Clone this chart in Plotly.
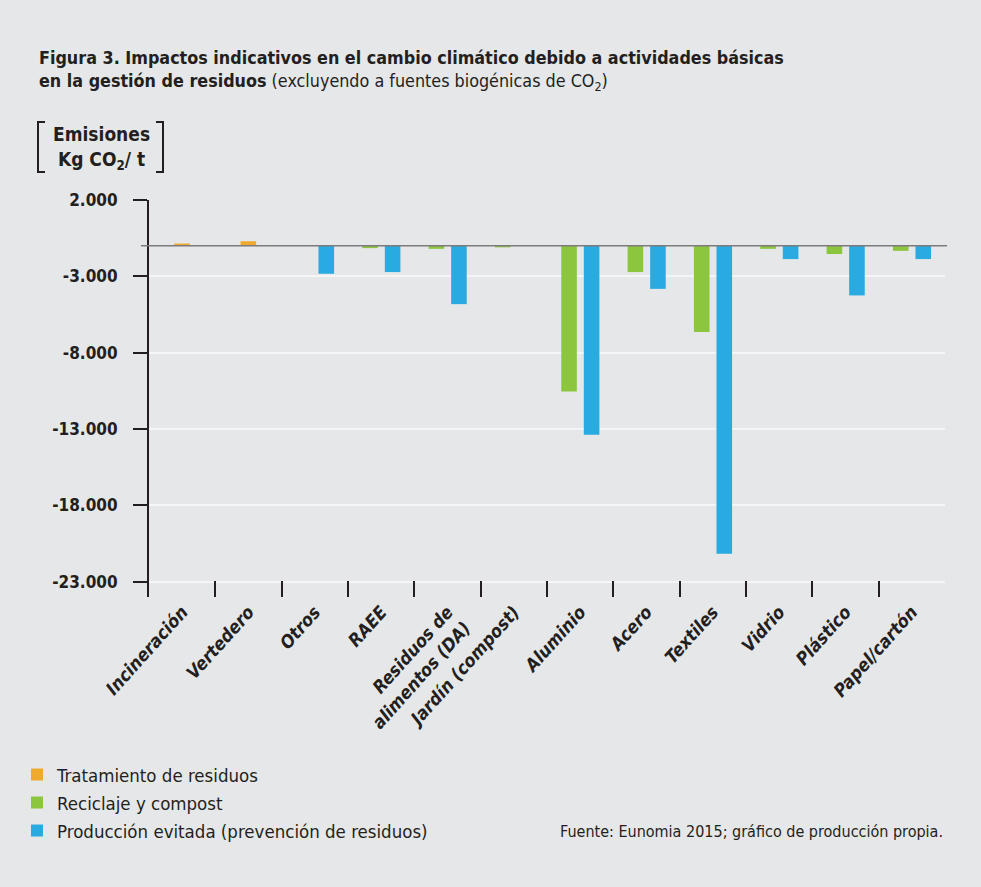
import plotly.graph_objects as go

categories = ["Incineración", "Vertedero", "Otros", "RAEE", "Residuos de<br>alimentos (DA)",
              "Jardín (compost)", "Aluminio", "Acero", "Textiles", "Vidrio", "Plástico", "Papel/cartón"]
series_names = ["Tratamiento de residuos", "Reciclaje y compost", "Producción evitada (prevención de residuos)"]
tratamiento = [150, 300, None, None, None, None, None, None, None, None, None, None]
reciclaje = [None, None, None, -150, -200, -100, -9540, -1720, -5650, -200, -540, -330]
evitada = [None, None, -1830, -1720, -3820, None, -12380, -2820, -20170, -870, -3250, -870]
tick_vals = [2000, -3000, -8000, -13000, -18000, -23000]
tick_text = ["2.000", "-3.000", "-8.000", "-13.000", "-18.000", "-23.000"]
BASELINE = -1000  # drawn reference line position on the printed axis

W, H = 981, 887
ML, MR, MT, MB = 149, 36, 200, 290
PW, PH = W - ML - MR, H - MT - MB

def px(x):
    return (x - ML) / PW

def py(y):
    return (H - MB - y) / PH

BG = "#e6e7e8"
TXT = "#231f20"
FONT = "DejaVu Sans Condensed, Liberation Sans Narrow, sans-serif"
colors = ["#efa92e", "#8cc63f", "#29abe2"]
offsets = [-0.12, -0.285, 0.055]
BW = 0.235

fig = go.Figure()
for i, (name, vals) in enumerate(zip(series_names, [tratamiento, reciclaje, evitada])):
    fig.add_trace(go.Bar(
        x=categories, y=vals, base=BASELINE, name=name,
        marker=dict(color=colors[i], line=dict(width=0)),
        width=BW, offset=offsets[i],
        legend=["legend", "legend2", "legend3"][i],
    ))

legend_common = dict(font=dict(family=FONT, size=18.5, color=TXT), bgcolor="rgba(0,0,0,0)",
                     xanchor="left", yanchor="middle", x=px(17), itemwidth=30)
fig.update_layout(
    width=W, height=H, barmode="overlay",
    paper_bgcolor=BG, plot_bgcolor=BG,
    margin=dict(l=ML, r=MR, t=MT, b=MB),
    font=dict(family=FONT, color=TXT),
    showlegend=True,
    legend=dict(**legend_common, y=py(775)),
    legend2=dict(**legend_common, y=py(803)),
    legend3=dict(**legend_common, y=py(831)),
    xaxis=dict(
        range=[-0.5, 11.5], tickson="boundaries", ticks="inside", ticklen=16, tickwidth=2,
        tickcolor=TXT, tickangle=-48, showgrid=False, showline=False, zeroline=False,
        tickfont=dict(family=FONT, size=18, color=TXT, weight="bold", style="italic"),
    ),
    yaxis=dict(
        range=[-24000, 2000], tickvals=tick_vals, ticktext=tick_text,
        ticks="outside", ticklen=14, tickwidth=2, tickcolor=TXT,
        showline=True, linecolor=TXT, linewidth=2,
        showgrid=True, gridcolor="#f5f5f5", gridwidth=2, zeroline=False,
        tickfont=dict(family=FONT, size=17, color=TXT, weight="bold"),
        ticklabelstandoff=12,
    ),
)

# reference line
fig.add_shape(type="line", xref="paper", yref="y", x0=px(141), x1=px(947), y0=BASELINE, y1=BASELINE,
              line=dict(color="#7d7b7b", width=1.5))

# titles
fig.add_annotation(xref="paper", yref="paper", x=px(37), y=py(57), xanchor="left", yanchor="middle",
                   showarrow=False, align="left",
                   text="<b>Figura 3. Impactos indicativos en el cambio climático debido a actividades básicas</b>",
                   font=dict(family=FONT, size=17.8, color=TXT))
fig.add_annotation(xref="paper", yref="paper", x=px(37), y=py(82), xanchor="left", yanchor="middle",
                   showarrow=False, align="left",
                   text="<b>en la gestión de residuos</b> (excluyendo a fuentes biogénicas de CO<sub>2</sub>)",
                   font=dict(family=FONT, size=17.8, color=TXT))

# y-axis unit label with brackets
fig.add_annotation(xref="paper", yref="paper", x=px(101), y=py(148), xanchor="center", yanchor="middle",
                   showarrow=False, align="center",
                   text="<b>Emisiones<br>Kg CO<sub>2</sub>/ t</b>",
                   font=dict(family=FONT, size=19, color=TXT))
for x0, x1 in [(45, 38), (156, 163)]:
    fig.add_shape(type="path", xref="paper", yref="paper",
                  path=f"M {px(x0)} {py(122)} L {px(x1)} {py(122)} L {px(x1)} {py(172)} L {px(x0)} {py(172)}",
                  line=dict(color=TXT, width=2))

# source
fig.add_annotation(xref="paper", yref="paper", x=px(945), y=py(831), xanchor="right", yanchor="middle",
                   showarrow=False, text="Fuente: Eunomia 2015; gráfico de producción propia.",
                   font=dict(family=FONT, size=16, color=TXT))

fig.write_html("out.html")
